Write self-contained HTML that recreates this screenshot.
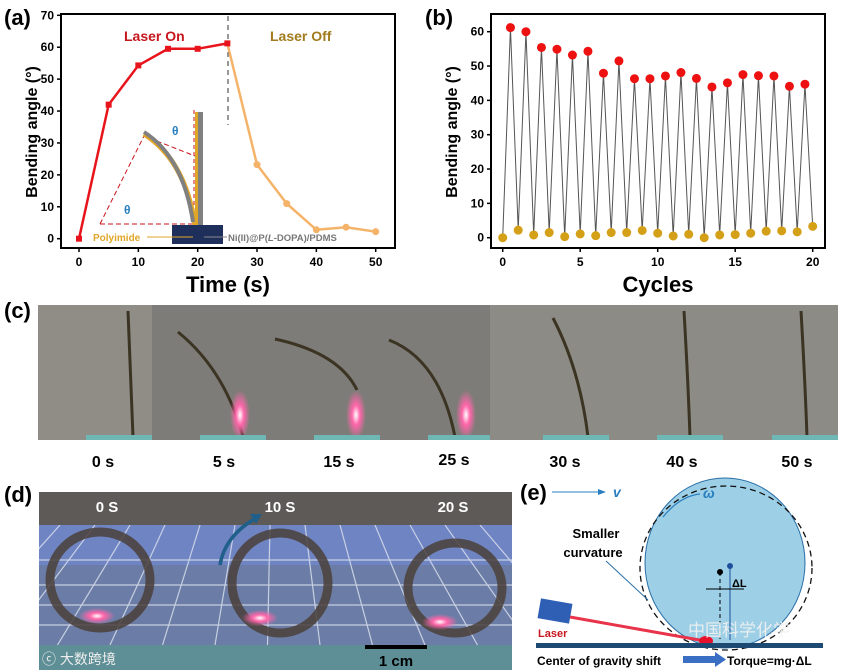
<!DOCTYPE html>
<html><head><meta charset="utf-8"><style>
html,body{margin:0;padding:0;background:#fff;}
svg{display:block;font-family:"Liberation Sans","Noto Sans CJK SC",sans-serif;}
</style></head><body>
<svg id="fig" width="841" height="670" viewBox="0 0 841 670">
<defs>
<radialGradient id="glow"><stop offset="0" stop-color="#fff"/><stop offset="0.4" stop-color="#f6a"/><stop offset="1" stop-color="#f6a" stop-opacity="0"/></radialGradient>
<clipPath id="dclip"><rect x="39" y="525" width="473" height="120"/></clipPath>
</defs>
<!-- panel a -->
<g id="pa">
<text x="4" y="25" font-size="22" font-weight="bold">(a)</text>
<rect x="61" y="14" width="334" height="234" fill="none" stroke="#000" stroke-width="2"/>
<text x="124" y="41" font-size="14" font-weight="bold" fill="#c8161d">Laser On</text>
<text x="270" y="41" font-size="14" font-weight="bold" fill="#a27b1c">Laser Off</text>
<line x1="228" y1="16" x2="228" y2="125" stroke="#555" stroke-dasharray="5,4" stroke-width="1.2"/>
<g>
<polyline points="100,224 144,136 195,156" fill="none" stroke="#c8161d" stroke-dasharray="5,3" stroke-width="1"/>
<line x1="100" y1="224" x2="196" y2="224" stroke="#c8161d" stroke-dasharray="5,3"/>
<line x1="194" y1="110" x2="194" y2="230" stroke="#c8161d" stroke-dasharray="4,3"/>
<path d="M144,134 Q185,160 195,225" fill="none" stroke="#e0a628" stroke-width="5"/>
<path d="M144,132 Q183,157 193,222" fill="none" stroke="#808080" stroke-width="4"/>
<rect x="197" y="112" width="6" height="122" fill="#808080"/>
<rect x="195" y="112" width="3" height="122" fill="#e0a628"/>
<rect x="172" y="225" width="51" height="19" fill="#1e2f5c"/>
<text x="172" y="135" font-size="12" font-weight="bold" fill="#2a7fc0">θ</text>
<text x="124" y="214" font-size="12" font-weight="bold" fill="#2a7fc0">θ</text>
<text x="93" y="241" font-size="10" font-weight="bold" fill="#e0a628">Polyimide</text>
<line x1="147" y1="237" x2="193" y2="237" stroke="#e0a628"/>
<line x1="204" y1="237" x2="227" y2="237" stroke="#888"/>
<text x="228" y="241" font-size="9.5" font-weight="bold" fill="#777">Ni(II)@P(<tspan font-style="italic">L</tspan>-DOPA)/PDMS</text>
</g>
<text transform="translate(37,132) rotate(-90)" text-anchor="middle" font-size="16" font-weight="bold">Bending angle (°)</text>
<text x="228" y="292" text-anchor="middle" font-size="22" font-weight="bold">Time (s)</text>
</g>
<!-- panel b -->
<g id="pb">
<text x="425" y="25" font-size="22" font-weight="bold">(b)</text>
<rect x="491" y="14" width="334" height="234" fill="none" stroke="#000" stroke-width="2"/>
<text transform="translate(457,132) rotate(-90)" text-anchor="middle" font-size="16" font-weight="bold">Bending angle (°)</text>
<text x="658" y="292" text-anchor="middle" font-size="22" font-weight="bold">Cycles</text>
</g>
<!-- panel c -->
<g>
<text x="4" y="318" font-size="22" font-weight="bold">(c)</text>
<rect x="38" y="305" width="114" height="135" fill="#8f8d86"/>
<rect x="152" y="305" width="338" height="135" fill="#7e7c78"/>
<rect x="490" y="305" width="348" height="135" fill="#8d8b86"/>
<g fill="none" stroke="#3b3423" stroke-width="3">
<path d="M128,311 Q131,380 133,437"/>
<path d="M178,332 Q225,370 243,437"/>
<path d="M276,386 Q340,400 358,437" transform="translate(-1,-47)"/>
<path d="M389,340 Q440,360 455,437"/>
<path d="M553,318 Q580,370 588,437"/>
<path d="M684,311 Q688,380 690,437"/>
<path d="M801,311 Q805,380 807,437"/>
</g>
<g fill="url(#glow)"><ellipse cx="240" cy="415" rx="10" ry="25"/><ellipse cx="356" cy="415" rx="10" ry="25"/><ellipse cx="466" cy="415" rx="10" ry="25"/></g>
<g fill="#6fb7b5"><rect x="86" y="435" width="66" height="5"/><rect x="200" y="435" width="66" height="5"/><rect x="314" y="435" width="66" height="5"/><rect x="428" y="435" width="62" height="5"/><rect x="543" y="435" width="66" height="5"/><rect x="657" y="435" width="66" height="5"/><rect x="772" y="435" width="66" height="5"/></g>
<g font-size="16" font-weight="bold" text-anchor="middle">
<text x="103" y="467">0 s</text>
<text x="224" y="467">5 s</text>
<text x="339" y="467">15 s</text>
<text x="454" y="465">25 s</text>
<text x="565" y="467">30 s</text>
<text x="682" y="467">40 s</text>
<text x="797" y="467">50 s</text>
</g>
</g>
<!-- panel d -->
<g>
<text x="4" y="502" font-size="22" font-weight="bold">(d)</text>
<rect x="39" y="492" width="473" height="178" fill="#6b7da6"/>
<rect x="39" y="492" width="473" height="33" fill="#5d5a58"/>
<rect x="39" y="525" width="473" height="40" fill="#6f84c2"/>
<rect x="39" y="645" width="473" height="25" fill="#5e8f96"/>
<g stroke="#dfe4f0" stroke-width="1.2" opacity="0.8" id="grid" clip-path="url(#dclip)"></g>
<g fill="none" stroke="#4a3f3a" stroke-width="9" opacity="0.85">
<ellipse cx="100" cy="580" rx="50" ry="48"/><ellipse cx="280" cy="583" rx="48" ry="50"/><ellipse cx="455" cy="588" rx="47" ry="45"/>
</g>
<g fill="url(#glow)"><ellipse cx="97" cy="616" rx="18" ry="8"/><ellipse cx="260" cy="618" rx="18" ry="8"/><ellipse cx="440" cy="622" rx="18" ry="8"/></g>
<path d="M220,565 Q225,535 258,517" fill="none" stroke="#1f5f8a" stroke-width="3.5"/>
<polygon points="262,514 250,514 256,524" fill="#1f5f8a"/>
<g fill="#fff" font-size="15" font-weight="bold" text-anchor="middle">
<text x="107" y="512">0 S</text><text x="280" y="512">10 S</text><text x="453" y="512">20 S</text></g>
<rect x="365" y="645" width="62" height="4" fill="#000"/>
<text x="396" y="666" text-anchor="middle" font-size="15" font-weight="bold">1 cm</text>
<text x="42" y="664" fill="#eee" font-size="14">ⓒ 大数跨境</text>
</g>
<!-- panel e -->
<g>
<text x="520" y="500" font-size="22" font-weight="bold">(e)</text>
<line x1="552" y1="492" x2="604" y2="492" stroke="#2a7fc0" stroke-width="1"/>
<polygon points="606,492 598,489 598,495" fill="#2a7fc0"/>
<text x="613" y="497" fill="#2a7fc0" font-size="14" font-weight="bold" font-style="italic">v</text>
<ellipse cx="725" cy="563" rx="80" ry="85" fill="#9dcfe6" stroke="#2a6fa6" stroke-width="1"/>
<ellipse cx="726" cy="568" rx="86" ry="82" fill="none" stroke="#111" stroke-dasharray="6,4" stroke-width="1.3"/>
<path d="M663,517 Q680,496 700,494" fill="none" stroke="#2a7fc0" stroke-width="1.2"/>
<text x="703" y="498" fill="#2a7fc0" font-size="14" font-weight="bold" font-style="italic">ω</text>
<circle cx="720" cy="572" r="3" fill="#000"/><circle cx="730" cy="566" r="3" fill="#1e4f9c"/>
<line x1="720" y1="572" x2="720" y2="642" stroke="#000" stroke-dasharray="4,3"/>
<line x1="730" y1="566" x2="730" y2="640" stroke="#1e4f9c"/>
<line x1="706" y1="589" x2="744" y2="589" stroke="#000"/>
<text x="732" y="587" font-size="11" font-weight="bold">ΔL</text>
<text x="596" y="538" text-anchor="middle" font-size="13" font-weight="bold">Smaller</text>
<text x="593" y="557" text-anchor="middle" font-size="13" font-weight="bold">curvature</text>
<line x1="606" y1="561" x2="648" y2="600" stroke="#2a6fa6"/>
<rect x="539" y="601" width="32" height="20" fill="#2f5fb4" transform="rotate(10 555 611)"/>
<line x1="570" y1="617" x2="705" y2="641" stroke="#e8334a" stroke-width="3"/>
<ellipse cx="706" cy="641" rx="7" ry="5" fill="#e8102a"/>
<text x="538" y="637" fill="#c8161d" font-size="11" font-weight="bold">Laser</text>
<rect x="536" y="643" width="287" height="5" fill="#1d4a73"/>
<text x="537" y="665" font-size="12" font-weight="bold">Center of gravity shift</text>
<rect x="683" y="656" width="32" height="7" fill="#3b6fc4"/><polygon points="715,652 726,659.5 715,667" fill="#3b6fc4"/>
<text x="727" y="665" font-size="12" font-weight="bold">Torque=mg·ΔL</text>
<text x="688" y="636" fill="#f2f2f2" font-size="17" opacity="0.9">中国科学化学</text>
</g>
</svg>
<script>
// Panel a data
const timeA = [0,5,10,15,20,25];
const onA = [0,42,54.3,59.5,59.5,61.2];
const timeOff = [25,30,35,40,45,50];
const offA = [61.2,23.2,11,2.8,3.6,2.2];
const xTicksA = [0,10,20,30,40,50];
const yTicksA = [0,10,20,30,40,50,60,70];
// Panel b data
const peakCycles = [0.5,1.5,2.5,3.5,4.5,5.5,6.5,7.5,8.5,9.5,10.5,11.5,12.5,13.5,14.5,15.5,16.5,17.5,18.5,19.5];
const peakVals = [61.2,60,55.4,54.9,53.2,54.3,47.9,51.5,46.3,46.3,47.1,48.1,46.4,43.9,45.1,47.5,47.2,47.1,44.1,44.7];
const valleyCycles = [0,1,2,3,4,5,6,7,8,9,10,11,12,13,14,15,16,17,18,19,20];
const valleyVals = [0,2.2,0.8,1.5,0.3,1.1,0.6,1.5,1.5,2.1,1.3,0.5,1.0,0,0.8,0.9,1.3,1.9,2.0,1.7,3.3];
const xTicksB = [0,5,10,15,20];
const yTicksB = [0,10,20,30,40,50,60];

const NS="http://www.w3.org/2000/svg";
function mk(tag,attrs,parent){const e=document.createElementNS(NS,tag);for(const k in attrs)e.setAttribute(k,attrs[k]);parent.appendChild(e);return e;}
const xa=v=>79+v*(375.7-79)/50, ya=v=>238.7-v*(238.7-15.3)/70;
const xb=v=>502.7+v*(812.7-502.7)/20, yb=v=>237.7-v*(237.7-31.7)/60;
const pa=document.getElementById('pa'), pb=document.getElementById('pb');
function axes(g,xt,yt,xf,yf,left,bottom,pre){
 xt.forEach(t=>{const l=mk('line',{x1:xf(t),x2:xf(t),y1:bottom,y2:bottom+4,stroke:'#000','stroke-width':1.5},g);
 
 
 const tx=mk('text',{x:xf(t),y:bottom+18,'text-anchor':'middle','font-size':12,'font-weight':'bold'},g);tx.textContent=t;
 
 });
 yt.forEach(t=>{const l=mk('line',{x1:left-4,x2:left,y1:yf(t),y2:yf(t),stroke:'#000','stroke-width':1.5},g);
 
 
 const tx=mk('text',{x:left-7,y:yf(t)+4,'text-anchor':'end','font-size':12,'font-weight':'bold'},g);tx.textContent=t;
 
 });
}
axes(pa,xTicksA,yTicksA,xa,ya,61,248,'a');
axes(pb,xTicksB,yTicksB,xb,yb,491,248,'b');
let l1=mk('polyline',{points:timeA.map((t,i)=>xa(t)+','+ya(onA[i])).join(' '),fill:'none',stroke:'#e8141c','stroke-width':2.5},pa);


let l2=mk('polyline',{points:timeOff.map((t,i)=>xa(t)+','+ya(offA[i])).join(' '),fill:'none',stroke:'#f5b36a','stroke-width':2.5},pa);


timeA.forEach((t,i)=>{const r=mk('rect',{x:xa(t)-3,y:ya(onA[i])-3,width:6,height:6,fill:'#e8141c'},pa);

});
timeOff.slice(1).forEach((t,i)=>{const c=mk('circle',{cx:xa(t),cy:ya(offA[i+1]),r:3.5,fill:'#f5b36a'},pa);

});
// panel b zigzag
const pts=[];valleyCycles.forEach((c,i)=>{pts.push([xb(c),yb(valleyVals[i])]);if(i<peakCycles.length)pts.push([xb(peakCycles[i]),yb(peakVals[i])]);});
let z=mk('polyline',{points:pts.map(p=>p.join(',')).join(' '),fill:'none',stroke:'#555','stroke-width':1},pb);


peakCycles.forEach((c,i)=>{const e=mk('circle',{cx:xb(c),cy:yb(peakVals[i]),r:4.5,fill:'#ee1111'},pb);

});
valleyCycles.forEach((c,i)=>{const e=mk('circle',{cx:xb(c),cy:yb(valleyVals[i]),r:4.5,fill:'#d4a017'},pb);

});
// grid lines on panel d
const grid=document.getElementById('grid');
for(let i=0;i<14;i++){const x=60+i*35;mk('line',{x1:x,y1:525,x2:x+(x-275)*0.5,y2:645},grid);}
[560,585,605,625].forEach(y=>mk('line',{x1:39,y1:y,x2:512,y2:y},grid));
</script>
</body></html>
